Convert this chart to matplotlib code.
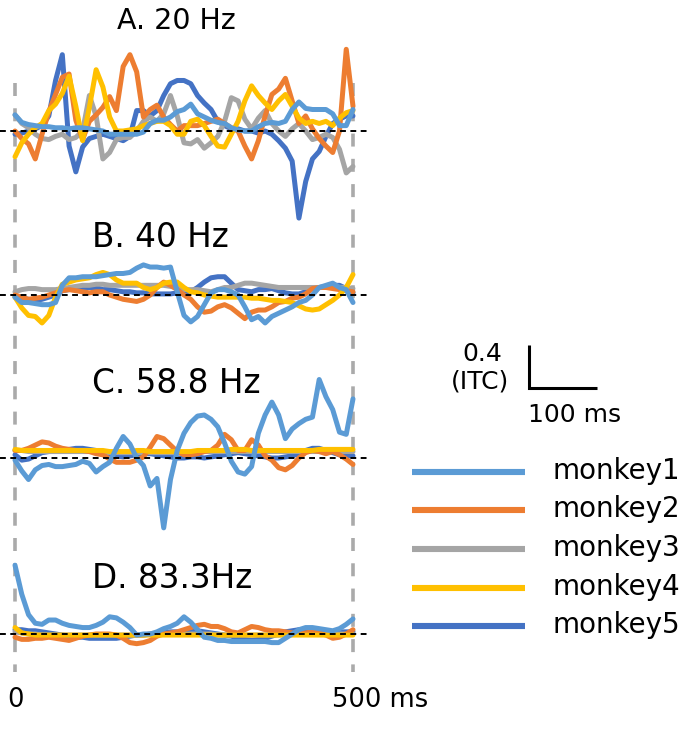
import numpy as np
import matplotlib
matplotlib.use("Agg")
import matplotlib.pyplot as plt

# time axis (ms) and ITC traces, one list per monkey and frequency
time_ms = np.arange(0, 501, 10)

monkeys = ["monkey1", "monkey2", "monkey3", "monkey4", "monkey5"]
colors = ["#5B9BD5", "#ED7D31", "#A5A5A5", "#FFC000", "#4472C4"]
panel_titles = ["A. 20 Hz", "B. 40 Hz", "C. 58.8 Hz", "D. 83.3Hz"]

# ---- A. 20 Hz
itc_20_m1 = [0.15, 0.08, 0.06, 0.05, 0.04, 0.04, 0.03, 0.03, 0.02, 0.03,
             0.03, 0.02, 0.01, 0.00, -0.03, -0.03, -0.03, -0.03, -0.03, -0.01,
             0.07, 0.10, 0.10, 0.13, 0.18, 0.20, 0.25, 0.16, 0.13, 0.10,
             0.08, 0.07, 0.03, 0.01, 0.00, 0.00, 0.04, 0.07, 0.08, 0.07,
             0.09, 0.20, 0.27, 0.21, 0.20, 0.20, 0.20, 0.16, 0.05, 0.05, 0.20]
itc_20_m2 = [0.00, -0.07, -0.12, -0.26, -0.03, 0.18, 0.34, 0.50, 0.53, 0.10,
             -0.08, 0.09, 0.15, 0.22, 0.32, 0.19, 0.60, 0.71, 0.55, 0.13,
             0.20, 0.24, 0.13, 0.06, 0.00, 0.05, 0.05, 0.05, 0.07, 0.09,
             0.11, 0.07, 0.03, 0.00, -0.14, -0.26, -0.09, 0.14, 0.34, 0.39,
             0.49, 0.28, 0.07, 0.14, 0.02, -0.07, -0.14, -0.20, 0.00, 0.76, 0.23]
itc_20_m3 = [0.15, 0.07, 0.03, -0.03, -0.07, -0.08, -0.05, -0.03, -0.08, -0.06,
             0.00, 0.33, 0.14, -0.26, -0.20, -0.08, -0.06, -0.06, 0.00, 0.09,
             0.13, 0.09, 0.16, 0.33, 0.14, -0.11, -0.12, -0.08, -0.16, -0.11,
             -0.05, 0.09, 0.31, 0.28, 0.11, 0.02, 0.12, 0.19, 0.07, 0.00,
             -0.05, 0.02, 0.07, 0.00, -0.08, -0.06, -0.03, -0.06, -0.17, -0.39, -0.33]
itc_20_m4 = [-0.24, -0.11, -0.03, 0.03, 0.07, 0.19, 0.25, 0.35, 0.51, 0.23,
             -0.09, 0.22, 0.57, 0.41, 0.13, 0.00, 0.00, 0.01, 0.02, 0.05,
             0.07, 0.09, 0.09, 0.05, -0.03, -0.03, 0.09, 0.11, 0.05, -0.05,
             -0.14, -0.15, -0.03, 0.09, 0.28, 0.42, 0.33, 0.26, 0.20, 0.28,
             0.34, 0.23, 0.12, 0.07, 0.09, 0.07, 0.09, 0.05, 0.12, 0.17, 0.19]
itc_20_m5 = [-0.03, -0.02, 0.00, 0.02, 0.05, 0.14, 0.47, 0.71, -0.14, -0.38,
             -0.15, -0.07, -0.05, -0.03, -0.05, -0.07, -0.09, -0.05, 0.19, 0.19,
             0.14, 0.19, 0.33, 0.44, 0.47, 0.47, 0.44, 0.33, 0.26, 0.20,
             0.09, 0.05, 0.02, 0.02, 0.00, 0.00, -0.02, 0.00, -0.03, -0.09,
             -0.16, -0.28, -0.81, -0.47, -0.26, -0.19, -0.05, 0.07, 0.11, 0.14, 0.14]

# ---- B. 40 Hz
itc_40_m1 = [-0.02, -0.07, -0.07, -0.08, -0.09, -0.09, -0.07, 0.09, 0.16, 0.16,
             0.17, 0.17, 0.17, 0.18, 0.19, 0.20, 0.20, 0.21, 0.25, 0.28,
             0.26, 0.26, 0.25, 0.26, 0.03, -0.19, -0.25, -0.20, -0.09, 0.02,
             0.05, 0.05, 0.03, 0.00, -0.11, -0.23, -0.20, -0.26, -0.20, -0.17,
             -0.14, -0.11, -0.07, -0.05, 0.00, 0.07, 0.09, 0.11, 0.07, 0.05, -0.07]
itc_40_m2 = [0.00, -0.02, -0.04, -0.03, -0.02, 0.00, 0.02, 0.04, 0.05, 0.04,
             0.03, 0.02, 0.03, 0.03, 0.00, -0.02, -0.04, -0.05, -0.06, -0.04,
             0.00, 0.07, 0.12, 0.09, 0.05, 0.00, -0.04, -0.11, -0.16, -0.15,
             -0.11, -0.09, -0.12, -0.17, -0.22, -0.16, -0.14, -0.14, -0.11, -0.07,
             -0.06, -0.03, -0.02, 0.01, 0.06, 0.07, 0.07, 0.06, 0.05, 0.04, 0.03]
itc_40_m3 = [0.03, 0.05, 0.06, 0.06, 0.05, 0.05, 0.05, 0.06, 0.07, 0.08,
             0.09, 0.09, 0.10, 0.10, 0.09, 0.09, 0.09, 0.09, 0.09, 0.09,
             0.09, 0.09, 0.09, 0.08, 0.07, 0.05, 0.05, 0.05, 0.04, 0.03,
             0.05, 0.07, 0.07, 0.09, 0.11, 0.11, 0.10, 0.09, 0.08, 0.07,
             0.07, 0.07, 0.07, 0.07, 0.07, 0.07, 0.07, 0.07, 0.07, 0.07, 0.06]
itc_40_m4 = [-0.02, -0.12, -0.19, -0.20, -0.26, -0.19, -0.02, 0.10, 0.12, 0.14,
             0.15, 0.16, 0.19, 0.21, 0.19, 0.14, 0.11, 0.11, 0.11, 0.07,
             0.05, 0.07, 0.11, 0.12, 0.12, 0.07, 0.03, 0.02, 0.00, -0.01,
             -0.02, -0.02, -0.02, -0.02, -0.02, -0.03, -0.03, -0.04, -0.05, -0.05,
             -0.06, -0.07, -0.10, -0.13, -0.14, -0.13, -0.09, -0.05, 0.00, 0.07, 0.19]
itc_40_m5 = [-0.02, -0.03, -0.04, -0.05, -0.04, -0.02, 0.00, 0.04, 0.05, 0.06,
             0.07, 0.07, 0.07, 0.05, 0.05, 0.04, 0.03, 0.03, 0.02, 0.02,
             0.01, 0.01, 0.01, 0.01, 0.02, 0.02, 0.03, 0.07, 0.12, 0.16,
             0.17, 0.17, 0.11, 0.05, 0.04, 0.03, 0.05, 0.05, 0.06, 0.04,
             0.02, 0.01, 0.01, 0.03, 0.06, 0.07, 0.08, 0.09, 0.09, 0.06, 0.02]

# ---- C. 58.8 Hz
itc_58_m1 = [-0.02, -0.12, -0.20, -0.11, -0.07, -0.06, -0.08, -0.08, -0.07, -0.06,
             -0.03, -0.05, -0.13, -0.08, -0.04, 0.09, 0.20, 0.13, 0.00, -0.07,
             -0.26, -0.19, -0.65, -0.20, 0.07, 0.23, 0.33, 0.39, 0.40, 0.36,
             0.29, 0.14, -0.03, -0.13, -0.15, -0.08, 0.23, 0.40, 0.52, 0.40,
             0.18, 0.27, 0.32, 0.36, 0.38, 0.73, 0.57, 0.45, 0.24, 0.22, 0.55]
itc_58_m2 = [0.07, 0.07, 0.09, 0.12, 0.15, 0.14, 0.11, 0.09, 0.08, 0.07,
             0.07, 0.06, 0.04, 0.03, -0.01, -0.04, -0.04, -0.04, -0.02, 0.01,
             0.10, 0.20, 0.18, 0.12, 0.06, 0.03, 0.03, 0.04, 0.06, 0.07,
             0.12, 0.22, 0.17, 0.07, 0.07, 0.17, 0.12, 0.02, -0.02, -0.09,
             -0.11, -0.07, 0.00, 0.05, 0.07, 0.06, 0.04, 0.06, 0.03, -0.01, -0.06]
itc_58_m3 = [0.07, 0.07, 0.06, 0.06, 0.06, 0.06, 0.06, 0.06, 0.06, 0.06,
             0.06, 0.06, 0.06, 0.05, 0.05, 0.05, 0.05, 0.05, 0.05, 0.05,
             0.05, 0.05, 0.05, 0.05, 0.05, 0.05, 0.05, 0.05, 0.06, 0.06,
             0.06, 0.06, 0.06, 0.06, 0.06, 0.06, 0.06, 0.06, 0.06, 0.06,
             0.06, 0.06, 0.06, 0.06, 0.06, 0.06, 0.06, 0.06, 0.06, 0.06, 0.06]
itc_58_m4 = [0.08, 0.07, 0.07, 0.07, 0.07, 0.07, 0.07, 0.07, 0.07, 0.07,
             0.07, 0.07, 0.07, 0.07, 0.06, 0.06, 0.06, 0.06, 0.07, 0.07,
             0.06, 0.06, 0.06, 0.06, 0.06, 0.06, 0.06, 0.07, 0.07, 0.07,
             0.07, 0.07, 0.08, 0.08, 0.08, 0.07, 0.07, 0.07, 0.07, 0.07,
             0.07, 0.07, 0.07, 0.07, 0.07, 0.08, 0.08, 0.08, 0.08, 0.08, 0.08]
itc_58_m5 = [0.03, -0.02, -0.01, 0.02, 0.05, 0.06, 0.07, 0.07, 0.08, 0.09,
             0.09, 0.08, 0.07, 0.06, 0.04, 0.02, 0.01, 0.02, 0.03, 0.04,
             0.04, 0.03, 0.02, 0.01, 0.00, 0.00, 0.01, 0.01, 0.00, 0.01,
             0.02, 0.03, 0.04, 0.05, 0.04, 0.03, 0.02, 0.01, 0.00, 0.00,
             0.01, 0.02, 0.04, 0.07, 0.09, 0.09, 0.07, 0.05, 0.03, 0.02, 0.02]

# ---- D. 83.3 Hz
itc_83_m1 = [0.64, 0.37, 0.18, 0.10, 0.09, 0.13, 0.13, 0.10, 0.08, 0.07,
             0.06, 0.06, 0.08, 0.11, 0.16, 0.15, 0.11, 0.06, -0.01, 0.00,
             0.00, 0.02, 0.05, 0.07, 0.10, 0.16, 0.11, 0.04, -0.03, -0.04,
             -0.06, -0.06, -0.07, -0.07, -0.07, -0.07, -0.07, -0.07, -0.08, -0.08,
             -0.04, 0.00, 0.04, 0.06, 0.06, 0.05, 0.04, 0.03, 0.05, 0.09, 0.14]
itc_83_m2 = [-0.03, -0.05, -0.05, -0.04, -0.04, -0.03, -0.04, -0.05, -0.06, -0.04,
             -0.02, -0.01, 0.00, 0.00, 0.00, -0.01, -0.04, -0.08, -0.09, -0.08,
             -0.06, -0.02, 0.00, 0.01, 0.02, 0.04, 0.06, 0.08, 0.09, 0.07,
             0.07, 0.05, 0.02, 0.01, 0.04, 0.07, 0.06, 0.04, 0.03, 0.03,
             0.02, 0.01, 0.01, 0.01, 0.02, 0.01, -0.01, -0.04, -0.03, 0.00, 0.04]
itc_83_m3 = [0.02, 0.01, 0.00, 0.00, -0.01, -0.01, -0.01, -0.01, -0.01, -0.01,
             -0.01, -0.01, -0.01, -0.01, -0.01, -0.01, -0.01, -0.01, -0.01, -0.01,
             0.00, 0.00, 0.00, 0.00, 0.00, 0.00, 0.00, 0.00, 0.00, 0.00,
             -0.01, -0.01, -0.01, -0.01, -0.01, -0.01, -0.01, -0.01, -0.01, -0.01,
             0.00, 0.00, 0.00, 0.00, 0.00, 0.00, 0.00, 0.00, 0.00, 0.00, 0.00]
itc_83_m4 = [0.06, 0.01, 0.00, -0.01, -0.01, -0.01, -0.01, -0.01, -0.01, -0.01,
             -0.01, -0.01, -0.01, -0.01, -0.01, -0.01, -0.01, -0.01, -0.01, -0.01,
             -0.01, -0.01, -0.01, -0.01, -0.01, -0.01, -0.01, -0.01, -0.01, -0.01,
             -0.01, -0.01, -0.01, -0.01, -0.01, -0.01, -0.01, -0.01, -0.01, -0.01,
             -0.01, -0.01, -0.01, -0.01, -0.01, -0.01, -0.01, -0.01, -0.01, -0.01, -0.01]
itc_83_m5 = [0.04, 0.04, 0.03, 0.03, 0.02, 0.01, 0.00, -0.01, -0.02, -0.03,
             -0.03, -0.04, -0.04, -0.04, -0.04, -0.04, -0.03, -0.02, -0.01, -0.01,
             0.00, 0.00, 0.01, 0.02, 0.02, 0.02, 0.03, 0.03, 0.02, 0.01,
             0.00, -0.01, -0.02, -0.04, -0.05, -0.06, -0.05, -0.04, -0.02, 0.00,
             0.02, 0.03, 0.04, 0.04, 0.03, 0.03, 0.02, 0.02, 0.02, 0.02, 0.02]

panels = [
    [itc_20_m1, itc_20_m2, itc_20_m3, itc_20_m4, itc_20_m5],
    [itc_40_m1, itc_40_m2, itc_40_m3, itc_40_m4, itc_40_m5],
    [itc_58_m1, itc_58_m2, itc_58_m3, itc_58_m4, itc_58_m5],
    [itc_83_m1, itc_83_m2, itc_83_m3, itc_83_m4, itc_83_m5],
]

# ---- layout (pixels of the 685x739 canvas)
W, H = 685, 739
X0_PX = 15            # pixel column of t = 0
PX_PER_MS = 0.676
PX_PER_ITC = 107.5
baseline_px = [131, 295, 458, 634]
title_pos = [(176, 29), (160, 247), (176, 393), (172, 588)]
title_size = [20.5, 23.5, 23.5, 23.5]
draw_order = [4, 2, 1, 3, 0]   # dark blue at the bottom, light blue on top


def xd(px):
    return (px - X0_PX) / PX_PER_MS


def yd(py):
    return -py / PX_PER_ITC


fig = plt.figure(figsize=(W / 100, H / 100), dpi=100)
ax = fig.add_axes([0, 0, 1, 1])
ax.set_xlim(xd(0), xd(W))
ax.set_ylim(yd(H), 0)
ax.axis("off")

# stimulus on/off markers
for t in (0, 500):
    ax.plot([t, t], [yd(83), yd(672)], color="#AAAAAA", lw=2.6,
            dashes=(3.6, 3.4), solid_capstyle="butt", zorder=1)

for i, traces in enumerate(panels):
    base = yd(baseline_px[i])
    for k in draw_order:
        vals = np.asarray(traces[k])
        assert len(vals) == len(time_ms)
        ax.plot(time_ms, base + vals, color=colors[k], lw=3.6,
                solid_capstyle="round", solid_joinstyle="round", zorder=3 + draw_order.index(k))
    ax.plot([xd(0), xd(371)], [base, base], color="black", lw=1.4,
            dashes=(3.0, 2.3), zorder=20)
    tx, ty = title_pos[i]
    ax.text(xd(tx), yd(ty), panel_titles[i], fontsize=title_size[i], ha="center", va="baseline")

# scale bar
sb_x, sb_y = xd(529), yd(388)
ax.plot([sb_x, sb_x, sb_x + 100], [sb_y + 0.4, sb_y, sb_y], color="black", lw=2.2,
        solid_joinstyle="miter", solid_capstyle="butt")
ax.text(xd(482), yd(361), "0.4", fontsize=18, ha="center", va="baseline")
ax.text(xd(480), yd(388), "(ITC)", fontsize=18, ha="center", va="baseline")
ax.text(xd(528), yd(422), "100 ms", fontsize=18, ha="left", va="baseline")

# time labels
ax.text(xd(15.5), yd(707), "0", fontsize=18.5, ha="center", va="baseline")
ax.text(xd(332), yd(707), "500 ms", fontsize=18.5, ha="left", va="baseline")

# legend drawn by hand
legend_y = [472, 510, 549, 588, 626]
for k, name in enumerate(monkeys):
    ax.plot([xd(412), xd(525)], [yd(legend_y[k])] * 2, color=colors[k], lw=4.4,
            solid_capstyle="butt")
    ax.text(xd(552), yd(legend_y[k] + 7), name, fontsize=20, ha="left", va="baseline")

fig.savefig("out.png", dpi=100, facecolor="white")
